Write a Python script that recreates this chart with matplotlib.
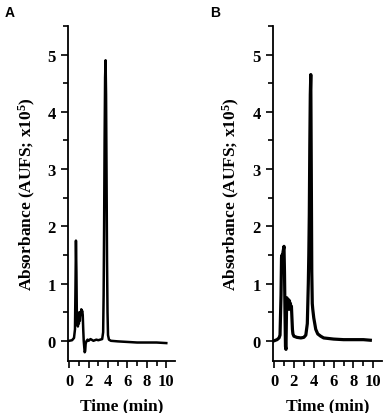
import numpy as np
import matplotlib
matplotlib.use("Agg")
import matplotlib.pyplot as plt
from matplotlib.ticker import MultipleLocator

plt.rcParams["font.family"] = "Liberation Serif"
plt.rcParams["font.weight"] = "bold"
plt.rcParams["mathtext.fontset"] = "custom"
plt.rcParams["mathtext.rm"] = "Liberation Serif:bold"
plt.rcParams["mathtext.bf"] = "Liberation Serif:bold"
plt.rcParams["mathtext.default"] = "bf"

# chromatogram A
time_a = [0, 0.3, 0.5, 0.6, 0.65, 0.7, 0.75, 0.8, 0.85, 0.9, 0.95, 1.0, 1.05, 1.1,
          1.15, 1.2, 1.25, 1.3, 1.35, 1.4, 1.45, 1.5, 1.55, 1.6, 1.65, 1.7, 1.8, 1.9,
          2.0, 2.2, 2.5, 2.8, 3.0, 3.2, 3.4, 3.5, 3.55, 3.6, 3.65, 3.7, 3.75, 3.8,
          3.85, 3.9, 3.95, 4.0, 4.1, 4.3, 5.0, 6.0, 7.0, 8.0, 9.0, 10.0]
abs_a = [0, 0.01, 0.05, 0.2, 0.9, 1.75, 1.2, 0.3, 0.4, 0.25, 0.45, 0.3, 0.5, 0.35,
         0.5, 0.45, 0.55, 0.5, 0.52, 0.45, 0.2, 0.0, -0.1, -0.2, -0.18, -0.05, 0.0, 0.02,
         0.0, 0.03, 0.0, 0.02, 0.01, 0.02, 0.03, 0.15, 0.8, 2.0, 3.5, 4.6, 4.9, 4.3,
         2.9, 1.4, 0.5, 0.1, 0.02, 0.0, -0.01, -0.02, -0.03, -0.03, -0.03, -0.04]

# chromatogram B
time_b = [0, 0.3, 0.5, 0.6, 0.7, 0.75, 0.8, 0.85, 0.9, 0.95, 1.0, 1.05, 1.1, 1.15,
          1.2, 1.25, 1.3, 1.35, 1.4, 1.45, 1.5, 1.55, 1.6, 1.65, 1.7, 1.75, 1.8, 1.85,
          1.9, 2.0, 2.3, 2.7, 3.0, 3.2, 3.35, 3.45, 3.5, 3.55, 3.6, 3.65, 3.7, 3.75,
          3.8, 3.85, 3.9, 4.0, 4.1, 4.2, 4.4, 4.7, 5.0, 6.0, 7.0, 8.0, 9.0, 9.7]
abs_b = [0, 0.02, 0.05, 0.1, 0.8, 1.45, 1.5, 1.4, 1.55, 1.6, 1.65, 1.2, 0.5, -0.1,
         -0.15, 0.5, 0.75, 0.7, 0.65, 0.72, 0.55, 0.7, 0.6, 0.65, 0.55, 0.6, 0.4, 0.2,
         0.12, 0.08, 0.06, 0.05, 0.06, 0.1, 0.3, 1.0, 1.5, 2.2, 3.4, 4.3, 4.65, 3.0,
         1.2, 0.65, 0.55, 0.4, 0.3, 0.2, 0.12, 0.08, 0.05, 0.03, 0.02, 0.02, 0.02, 0.01]

fig = plt.figure(figsize=(3.83, 4.14), dpi=100)
ax_a = fig.add_axes([0.178, 0.126, 0.279, 0.809])
ax_b = fig.add_axes([0.713, 0.126, 0.285, 0.809])

for ax, t, a, lw in [(ax_a, time_a, abs_a, 1.8), (ax_b, time_b, abs_b, 2.3)]:
    ax.plot(t, a, color="black", lw=lw)
    ax.set_xlim(-0.1, 10.9)
    ax.set_ylim(-0.35, 5.5)
    ax.spines["top"].set_visible(False)
    ax.spines["right"].set_visible(False)
    ax.spines["left"].set_linewidth(1.3)
    ax.spines["bottom"].set_linewidth(1.3)
    ax.xaxis.set_major_locator(MultipleLocator(2))
    ax.xaxis.set_minor_locator(MultipleLocator(1))
    ax.yaxis.set_major_locator(MultipleLocator(1))
    ax.yaxis.set_minor_locator(MultipleLocator(0.5))
    ax.tick_params(which="major", length=5, width=1.2, labelsize=12, pad=4)
    ax.tick_params(which="minor", length=3.5, width=1.2)
    for tl in ax.get_xticklabels() + ax.get_yticklabels():
        tl.set_fontweight("bold")
    ax.set_xlabel("Time (min)", fontsize=12.5, fontweight="bold", labelpad=6)
    ax.set_ylabel("Absorbance (AUFS; x10$^5$)", fontsize=12.5, fontweight="bold", labelpad=7)

fig.text(0.013, 0.985, "A", family="Liberation Sans", weight="bold", fontsize=10, va="top")
fig.text(0.548, 0.985, "B", family="Liberation Sans", weight="bold", fontsize=10, va="top")

fig.savefig("out.png", dpi=100)
